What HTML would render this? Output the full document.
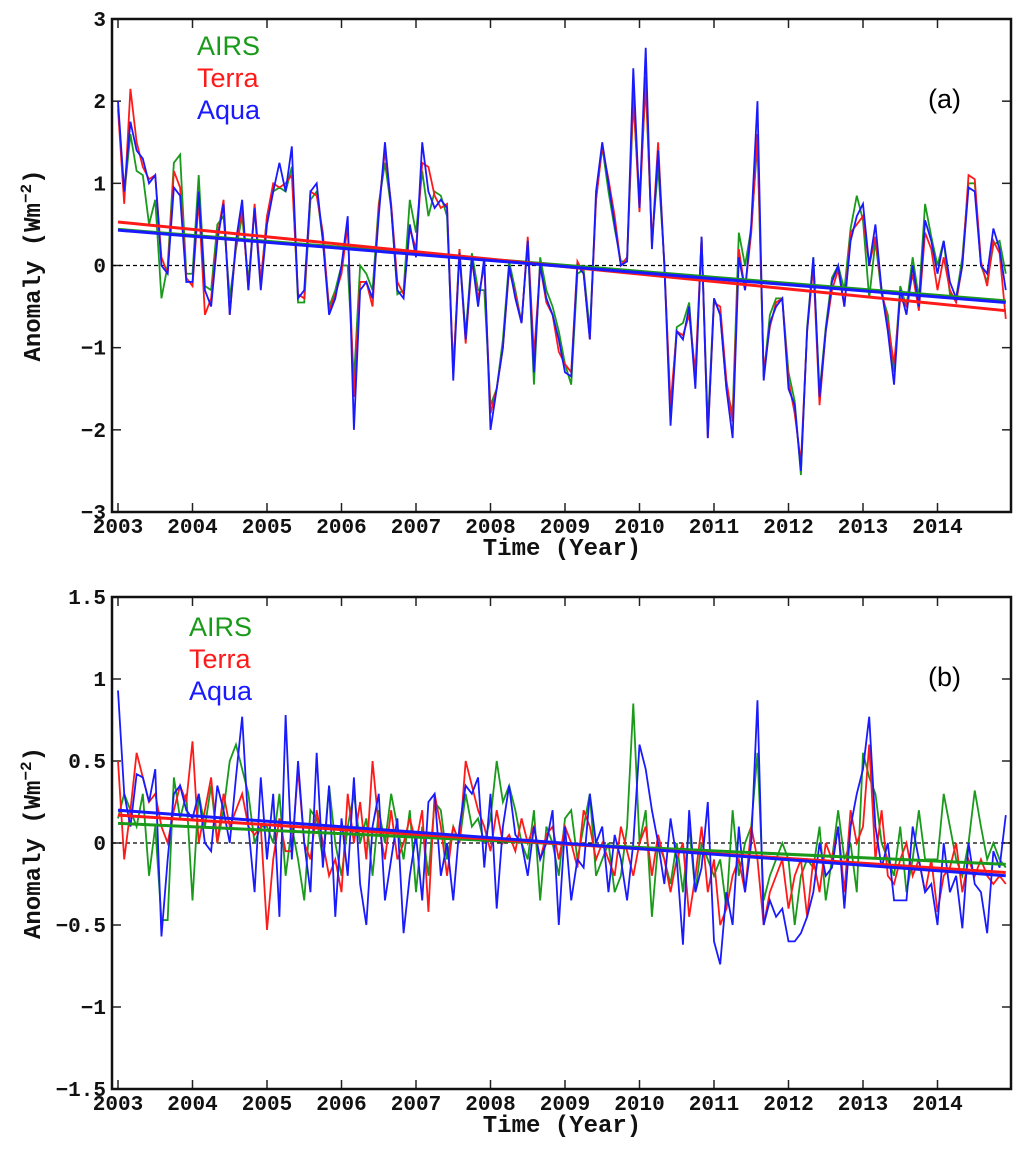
<!DOCTYPE html>
<html><head><meta charset="utf-8"><style>
body{margin:0;background:#fff}
svg{display:block}
.tk{font-family:"Liberation Mono",monospace;font-weight:bold;font-size:21px;fill:#111}
.tt{font-family:"Liberation Mono",monospace;font-weight:bold;font-size:24px;fill:#111}
.lg{font-family:"Liberation Sans",sans-serif;font-size:27px}
</style></head><body>
<svg id="chart" width="1024" height="1151" viewBox="0 0 1024 1151"></svg>
<script>
const years=[2003,2004,2005,2006,2007,2008,2009,2010,2011,2012,2013,2014];
const ticksA=[3,2,1,0,-1,-2,-3];
const ticksB=[1.5,1,0.5,0,-0.5,-1,-1.5];
const aquaA=[2.0,0.9,1.75,1.4,1.3,1.0,1.1,0.0,-0.1,0.95,0.85,-0.2,
-0.2,0.9,-0.3,-0.5,0.3,0.75,-0.6,0.3,0.8,-0.3,0.7,-0.3,
0.5,0.9,1.25,0.9,1.45,-0.4,-0.3,0.9,1.0,0.3,-0.6,-0.4,
0.0,0.6,-2.0,-0.3,-0.2,-0.4,0.6,1.5,0.7,-0.3,-0.4,0.5,
0.1,1.5,0.9,0.7,0.8,0.7,-1.4,0.15,-0.9,0.1,-0.5,0.1,
-2.0,-1.5,-1.0,0.0,-0.4,-0.7,0.3,-1.3,0.0,-0.4,-0.6,-0.9,
-1.3,-1.35,0.0,-0.1,-0.9,0.9,1.5,1.0,0.5,0.0,0.05,2.4,
0.7,2.65,0.2,1.4,0.0,-1.95,-0.8,-0.9,-0.5,-1.5,0.35,-2.1,
-0.4,-0.6,-1.5,-2.1,0.1,-0.3,0.5,2.0,-1.4,-0.7,-0.5,-0.4,
-1.5,-1.7,-2.5,-0.8,0.1,-1.6,-0.8,-0.2,0.0,-0.5,0.3,0.6,
0.75,0.0,0.5,-0.3,-0.8,-1.45,-0.3,-0.6,0.0,-0.5,0.55,0.3,
-0.1,0.3,-0.2,-0.4,0.0,0.95,0.9,0.0,-0.1,0.45,0.2,-0.3];
const terraA=[1.9,0.75,2.15,1.5,1.2,1.05,1.1,0.1,-0.1,1.15,0.95,-0.15,
-0.25,0.8,-0.6,-0.4,0.35,0.8,-0.6,0.25,0.7,-0.3,0.75,-0.2,
0.6,1.0,0.95,1.0,1.1,-0.35,-0.4,0.9,0.85,0.4,-0.55,-0.35,
-0.1,0.5,-1.6,-0.2,-0.2,-0.5,0.7,1.4,0.75,-0.2,-0.35,0.45,
0.2,1.25,1.2,0.85,0.7,0.75,-1.3,0.2,-0.95,0.05,-0.4,0.0,
-1.8,-1.5,-1.0,-0.05,-0.35,-0.7,0.35,-1.1,0.0,-0.45,-0.6,-1.05,
-1.2,-1.3,0.05,-0.1,-0.9,0.8,1.45,1.05,0.6,0.0,0.1,2.1,
0.65,2.3,0.25,1.5,0.0,-1.7,-0.8,-0.85,-0.6,-1.3,0.35,-2.1,
-0.45,-0.5,-1.4,-1.9,0.2,-0.3,0.4,1.6,-1.3,-0.75,-0.45,-0.4,
-1.4,-1.8,-2.4,-0.8,0.0,-1.7,-0.8,-0.3,-0.05,-0.5,0.4,0.5,
0.6,0.0,0.35,-0.3,-0.7,-1.2,-0.4,-0.5,-0.1,-0.55,0.4,0.2,
-0.3,0.1,-0.3,-0.45,0.0,1.1,1.05,0.05,-0.25,0.3,0.15,-0.65];
const airsA=[1.95,0.85,1.6,1.15,1.1,0.5,0.8,-0.4,0.0,1.25,1.35,-0.1,
-0.1,1.1,-0.25,-0.3,0.5,0.6,-0.4,0.2,0.6,-0.2,0.7,-0.2,
0.6,0.9,0.95,0.9,1.2,-0.45,-0.45,0.8,0.9,0.3,-0.5,-0.3,
0.0,0.0,-1.4,0.0,-0.1,-0.3,0.75,1.25,0.7,-0.35,-0.3,0.8,
0.4,1.15,0.6,0.9,0.85,0.6,-1.3,0.2,-0.85,0.15,-0.3,-0.3,
-1.7,-1.5,-0.9,0.05,-0.3,-0.7,0.3,-1.45,0.1,-0.3,-0.5,-0.8,
-1.2,-1.45,-0.1,-0.05,-0.8,0.8,1.45,0.9,0.45,0.05,0.05,2.0,
0.8,2.2,0.3,1.2,0.05,-1.8,-0.75,-0.7,-0.45,-1.45,0.35,-1.95,
-0.4,-0.6,-1.5,-1.8,0.4,0.0,0.45,1.5,-1.35,-0.6,-0.4,-0.4,
-1.3,-1.65,-2.55,-0.75,0.1,-1.55,-0.75,-0.15,0.0,-0.3,0.45,0.85,
0.55,-0.4,0.3,-0.35,-0.6,-1.3,-0.25,-0.5,0.1,-0.4,0.75,0.35,
0.0,0.3,-0.35,-0.4,0.1,1.0,1.0,0.0,-0.2,0.25,0.3,-0.1];
const aquaB=[0.93,0.3,0.1,0.42,0.4,0.25,0.45,-0.57,-0.1,0.3,0.35,0.2,
0.15,0.3,0.0,-0.05,0.35,0.2,0.0,0.4,0.77,0.1,-0.3,0.4,
-0.1,0.3,-0.45,0.78,-0.1,0.5,0.0,-0.3,0.55,-0.15,0.35,-0.45,
0.15,-0.2,0.4,-0.25,-0.5,0.1,0.3,-0.35,-0.1,0.15,-0.55,-0.2,
0.05,-0.35,0.25,0.3,-0.2,0.0,-0.35,0.1,0.35,0.3,0.4,-0.15,
0.3,-0.4,0.1,0.35,0.05,0.0,-0.2,0.1,-0.1,0.0,0.2,-0.5,
0.1,-0.35,-0.1,-0.15,0.3,0.0,0.1,-0.3,0.05,-0.1,-0.35,0.0,
0.6,0.45,0.2,0.0,-0.25,0.15,-0.1,-0.62,0.2,-0.3,-0.15,0.25,
-0.6,-0.74,-0.3,-0.5,0.1,-0.3,0.0,0.87,-0.5,-0.35,-0.45,-0.4,
-0.6,-0.6,-0.55,-0.45,-0.3,0.0,-0.2,-0.15,0.1,-0.4,0.1,0.3,
0.45,0.77,0.1,-0.15,0.0,-0.35,-0.35,-0.35,0.1,-0.1,-0.3,-0.25,
-0.5,0.0,-0.3,-0.2,-0.52,0.0,-0.25,-0.3,-0.55,-0.05,-0.15,0.17];
const terraB=[0.5,-0.1,0.2,0.55,0.4,0.25,0.3,0.1,0.0,0.2,0.35,0.25,
0.62,0.0,0.2,0.4,0.0,0.3,0.1,0.2,0.3,0.1,0.05,0.1,
-0.53,-0.1,0.15,-0.05,-0.05,0.45,0.0,-0.1,0.2,0.0,-0.2,-0.1,
-0.3,0.3,0.0,0.25,-0.1,0.5,0.1,-0.1,0.2,-0.1,0.0,0.15,
0.0,0.2,-0.42,0.3,0.1,-0.2,0.1,0.0,0.5,0.35,0.2,0.1,
-0.05,0.2,0.0,0.05,-0.05,0.15,0.0,0.1,-0.1,0.05,0.1,-0.1,
0.1,0.0,-0.15,0.2,0.1,-0.1,0.0,-0.1,-0.2,0.1,-0.05,-0.2,
0.0,0.1,-0.2,0.05,-0.1,-0.3,-0.1,0.0,-0.45,-0.2,0.1,-0.3,
-0.1,-0.5,-0.4,-0.2,-0.1,-0.3,0.1,-0.1,-0.5,-0.3,-0.2,-0.1,
-0.4,-0.2,-0.1,-0.45,-0.1,-0.3,0.0,-0.1,0.1,-0.3,0.2,0.0,
0.1,0.6,-0.1,0.2,-0.2,-0.25,-0.1,0.0,-0.2,-0.1,-0.3,-0.1,
-0.42,-0.2,-0.15,0.0,-0.3,-0.1,-0.2,-0.1,-0.2,-0.25,-0.2,-0.25];
const airsB=[0.15,0.3,0.2,0.1,0.3,-0.2,0.1,-0.47,-0.47,0.4,0.15,0.3,
-0.35,0.3,0.1,0.35,0.0,0.2,0.5,0.6,0.45,0.3,0.0,0.1,
0.1,0.0,0.3,-0.2,0.1,-0.1,-0.35,0.2,0.15,-0.1,0.35,0.0,
-0.2,0.1,0.3,0.0,0.15,-0.2,0.2,0.0,0.3,0.1,-0.1,0.2,
-0.3,0.1,-0.2,0.25,0.2,-0.1,0.1,0.0,0.3,0.1,0.15,0.0,
0.15,0.5,0.25,0.35,0.2,0.0,-0.1,0.2,-0.35,0.1,0.0,-0.2,
0.15,0.2,-0.1,0.1,0.3,-0.2,-0.1,0.0,-0.3,-0.2,0.1,0.85,
0.0,0.2,-0.45,0.0,-0.1,-0.25,0.0,-0.3,0.1,-0.3,0.0,-0.1,
-0.2,-0.1,-0.4,0.2,-0.2,0.0,0.1,0.55,-0.35,-0.2,-0.1,0.0,
-0.1,-0.5,-0.2,-0.1,-0.15,0.1,-0.35,-0.1,0.2,-0.1,0.0,-0.3,
0.55,0.4,0.3,0.0,-0.1,-0.2,0.1,-0.3,-0.1,0.2,-0.1,-0.1,
-0.1,0.3,0.1,-0.1,-0.2,0.0,0.32,0.1,-0.1,0.0,-0.1,-0.15];
const trendA={airs:[0.44,-0.43],terra:[0.53,-0.55],aqua:[0.43,-0.45]};
const trendB={airs:[0.12,-0.13],terra:[0.17,-0.18],aqua:[0.2,-0.2]};

const NS="http://www.w3.org/2000/svg";
const svg=document.getElementById('chart');
function mk(tag,attrs,parent){const e=document.createElementNS(NS,tag);for(const k in attrs)e.setAttribute(k,attrs[k]);(parent||svg).appendChild(e);return e;}
const X0=118, PX=74.5, L=112, R=1011;
function xs(i){return X0+i*PX/12;}

function panel(p){
  const g=mk('g',{});
  
  
  const ys=v=>p.top+(p.max-v)/(p.max-p.min)*(p.bot-p.top);
  // ticks
  p.ticks.forEach(v=>{
    const y=ys(v);
    const t=mk('text',{x:L-6,y:y+7,'text-anchor':'end',class:'tk'},g);t.textContent=(v<0?'\u2212':'')+Math.abs(v);
    
    
    mk('line',{x1:L,x2:L+9,y1:y,y2:y,stroke:'#222','stroke-width':1.5},g);
    mk('line',{x1:R,x2:R-9,y1:y,y2:y,stroke:'#222','stroke-width':1.5},g);
  });
  years.forEach((yr,i)=>{
    const x=X0+i*PX;
    mk('line',{x1:x,x2:x,y1:p.bot,y2:p.bot-9,stroke:'#222','stroke-width':1.5},g);
    mk('line',{x1:x,x2:x,y1:p.top,y2:p.top+9,stroke:'#222','stroke-width':1.5},g);
    const t=mk('text',{x:x,y:p.bot+21,'text-anchor':'middle',class:'tk'},g);t.textContent=yr;
    
    
  });
  mk('line',{x1:L,x2:R,y1:ys(0),y2:ys(0),stroke:'#000','stroke-width':1.2,'stroke-dasharray':'4,3'},g);
  const series=[['airs',p.airs,'#1a9a1a'],['terra',p.terra,'#ff1a1a'],['aqua',p.aqua,'#1a1aff']];
  series.forEach(([n,d,c])=>{
    const pl=mk('polyline',{points:d.map((v,i)=>xs(i)+','+ys(v)).join(' '),fill:'none',stroke:c,'stroke-width':1.8},g);
    
    
  });
  series.forEach(([n,d,c])=>{
    const tr=p.trend[n];
    const l=mk('line',{x1:xs(0),x2:xs(d.length-1),y1:ys(tr[0]),y2:ys(tr[1]),stroke:c,'stroke-width':3},g);
    
    
  });
  mk('rect',{x:L,y:p.top,width:R-L,height:p.bot-p.top,fill:'none',stroke:'#111','stroke-width':2.5},g);
  const xt=mk('text',{x:562,y:p.bot+43,'text-anchor':'middle',class:'tt'},g);xt.textContent='Time (Year)';
  
  
  const cy=(p.top+p.bot)/2;
  const yt=mk('text',{x:0,y:0,'text-anchor':'middle',class:'tt',transform:`translate(40,${cy}) rotate(-90)`},g);
  yt.innerHTML='Anomaly (Wm<tspan dy="-9" font-size="16">\u22122</tspan><tspan dy="9">)</tspan>';
  
  
  const lab=mk('text',{x:p.labX,y:p.labY,class:'lg','font-size':30},g);lab.textContent=p.label;
  
  
  [['AIRS','#1a9a1a'],['Terra','#ff1a1a'],['Aqua','#1a1aff']].forEach(([t,c],i)=>{
    const e=mk('text',{x:p.legX,y:p.legY+i*32,class:'lg',fill:c},g);e.textContent=t;
    
    
  });
}
panel({id:'a',top:19,bot:512,max:3,min:-3,ticks:ticksA,airs:airsA,terra:terraA,aqua:aquaA,trend:trendA,label:'(a)',labX:928,labY:108,legX:197,legY:55});
panel({id:'b',top:597,bot:1089,max:1.5,min:-1.5,ticks:ticksB,airs:airsB,terra:terraB,aqua:aquaB,trend:trendB,label:'(b)',labX:928,labY:686,legX:189,legY:636});
</script>
</body></html>
